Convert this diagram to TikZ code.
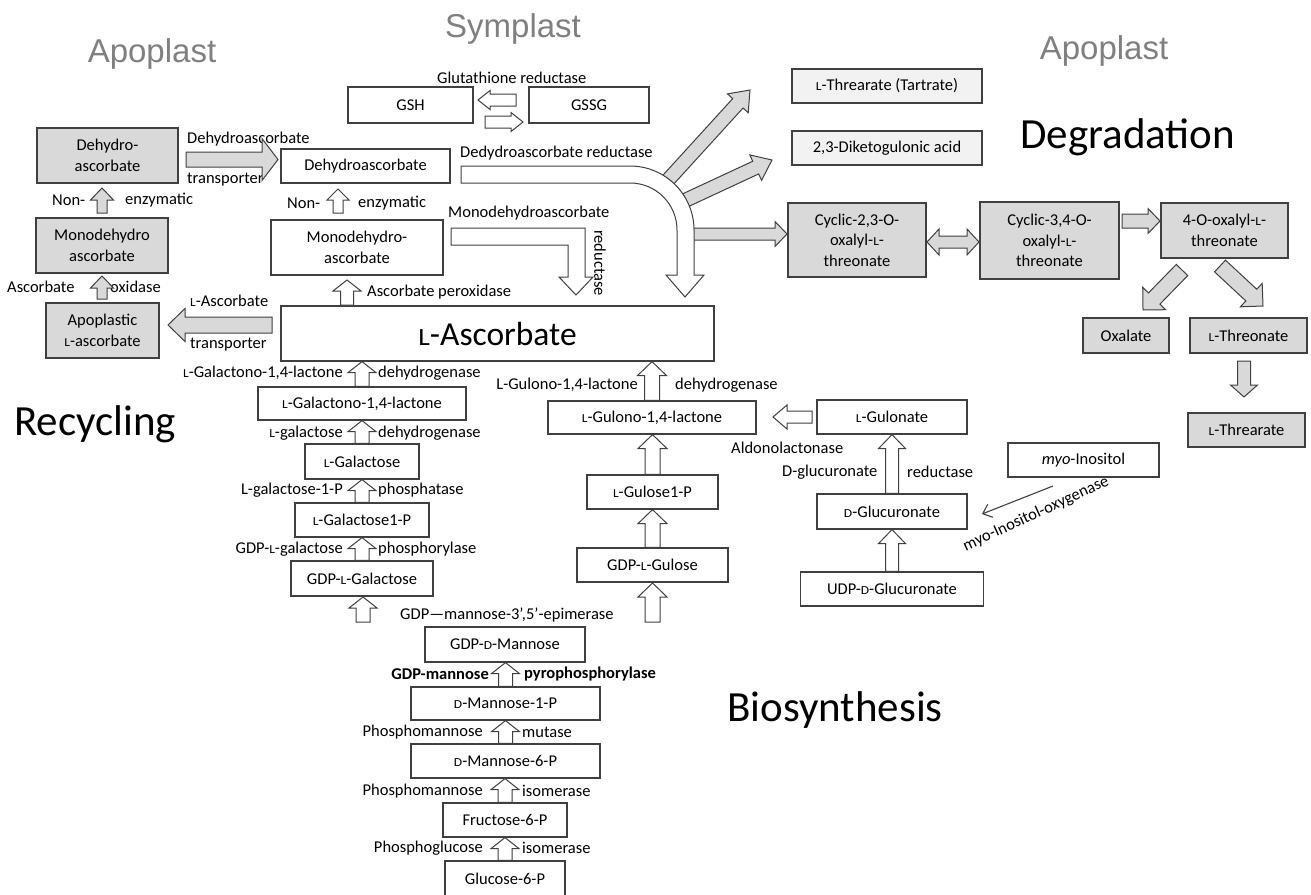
\documentclass[tikz,border=0pt]{standalone}
\usepackage{fontspec}
\setmainfont{Carlito}
\newfontfamily\headfam{Liberation Sans}
\usepackage{graphicx}
\usetikzlibrary{calc,arrows.meta}
\definecolor{boxc}{HTML}{404040}
\definecolor{gfill}{HTML}{D9D9D9}
\definecolor{lfill}{HTML}{F2F2F2}
\definecolor{headc}{HTML}{808080}
\newcommand\scl{\scalebox{0.82}[0.74]{L}}
\newcommand\scd{\scalebox{0.82}[0.74]{D}}
\newcommand\lblfont{\fontsize{16.5}{20.5}\selectfont}
\newcommand\headfont{\headfam\fontsize{33}{40}\selectfont}
\newcommand\titlefont{\fontsize{43}{50}\selectfont}
\newcommand\ascfont{\fontsize{33.5}{40}\selectfont}
% block arrow: [style]{start}{end}{shaft half}{head half}{head length}
\newcommand\barrow[6][]{%
  \draw[barr,#1] let \p1=($(#3)-(#2)$), \n1={veclen(\x1,\y1)}, \n2={atan2(\y1,\x1)} in
  [shift={(#2)},rotate=\n2] (0pt,-#4) -- ({\n1-#6},-#4) -- ({\n1-#6},-#5) -- (\n1,0pt)
  -- ({\n1-#6},#5) -- ({\n1-#6},#4) -- (0pt,#4) -- cycle;}
% up arrow from lower node to upper node
\newcommand\uparr[6][]{%
  \coordinate (ua-s) at (#2.north);
  \coordinate (ua-e) at (#2.north |- #3.south);
  \barrow[#1]{ua-s}{ua-e}{#4}{#5}{#6}}
\tikzset{
  box/.style={draw=boxc, line width=1.2pt, fill=white, inner sep=1pt, align=center, font=\lblfont},
  gbox/.style={box, fill=gfill},
  lbox/.style={box, fill=lfill},
  lbl/.style={inner sep=0pt, font=\lblfont},
  barr/.style={draw=boxc, line width=1pt, fill=white, line join=miter},
  garr/.style={fill=gfill},
  head/.style={font=\headfont, text=headc, inner sep=0pt},
  ttl/.style={font=\titlefont, inner sep=0pt},
}
\begin{document}
\begin{tikzpicture}[x=1pt,y=-1pt]
\useasboundingbox (0,0) rectangle (1311,894);
\fill[white] (0,0) rectangle (1311,894);

% headings
\node[head,anchor=base] (hA1) at (152,62) {Apoplast};
\node[head,anchor=base] (hS) at (513,37) {Symplast};
\node[head,anchor=base] (hA2) at (1104,59) {Apoplast};
\node[ttl,anchor=base west] (deg) at (1020,148) {Degradation};
\node[ttl,anchor=base west] (rec) at (14,435) {Recycling};
\node[ttl,anchor=base west] (bio) at (727,721) {Biosynthesis};

% gray branch arrows (behind the curved arrow)
\barrow[garr]{668,180}{750,90}{7pt}{14pt}{18pt}
\barrow[garr]{686,200}{772,160}{7pt}{14pt}{18pt}
\barrow[garr]{690,234}{787,234}{6pt}{12.5pt}{12pt}

% curved arrow (Dehydroascorbate reductase)
\draw[barr] (461,166) -- (630,166) .. controls (665.3,166) and (694,194.7) .. (694,230)
  -- (694,275) -- (704,275) -- (685,297) -- (666,275) -- (677,275) -- (677,230)
  .. controls (677,204) and (656,183) .. (630,183) -- (461,183) -- cycle;
% bent arrow (Monodehydroascorbate reductase)
\draw[barr] (451,228) -- (585,228) -- (585,277) -- (593,277) -- (576,295) -- (559,277)
  -- (568,277) -- (568,245) -- (451,245) -- cycle;

% boxes
\node[box,minimum width=125pt,minimum height=36pt] (gsh) at (410.5,105) {GSH};
\node[box,minimum width=120pt,minimum height=36pt] (gssg) at (589,105) {GSSG};
\node[gbox,minimum width=141pt,minimum height=55pt] (dhaA) at (107.5,155.5) {Dehydro-\\ascorbate};
\node[box,minimum width=169pt,minimum height=34pt] (dhaS) at (365.5,166) {Dehydroascorbate};
\node[gbox,minimum width=132pt,minimum height=55pt] (mdhaA) at (102,245.5) {Monodehydro\\ascorbate};
\node[box,minimum width=172pt,minimum height=55pt] (mdhaS) at (357,247.5) {Monodehydro-\\ascorbate};
\node[gbox,minimum width=113pt,minimum height=55pt] (apoasc) at (102.5,330.5) {Apoplastic\\\scl-ascorbate};
\node[box,minimum width=433pt,minimum height=55pt,font=\ascfont] (asc) at (497.5,333.5) {\scl-Ascorbate};
\node[box,minimum width=208pt,minimum height=33pt] (galL) at (362,403.5) {\scl-Galactono-1,4-lactone};
\node[box,minimum width=114pt,minimum height=35pt] (gal) at (362,461.5) {\scl-Galactose};
\node[box,minimum width=134pt,minimum height=34pt] (gal1p) at (362,520) {\scl-Galactose1-P};
\node[box,minimum width=142pt,minimum height=35pt] (gdpgal) at (362,578.5) {GDP-\scl-Galactose};
\node[box,minimum width=160pt,minimum height=35pt] (gdpman) at (505,644.5) {GDP-\scd-Mannose};
\node[box,minimum width=189pt,minimum height=33pt] (man1p) at (505.5,703.5) {\scd-Mannose-1-P};
\node[box,minimum width=189pt,minimum height=34pt] (man6p) at (505.5,761) {\scd-Mannose-6-P};
\node[box,minimum width=124pt,minimum height=34pt] (fru6p) at (505,820) {Fructose-6-P};
\node[box,minimum width=120pt,minimum height=36pt] (glc6p) at (505,879) {Glucose-6-P};
\node[box,minimum width=208pt,minimum height=33pt] (gulL) at (652,417.5) {\scl-Gulono-1,4-lactone};
\node[box,minimum width=131pt,minimum height=34pt] (gul1p) at (652.5,492) {\scl-Gulose1-P};
\node[box,minimum width=151pt,minimum height=34pt] (gdpgul) at (652.5,565) {GDP-\scl-Gulose};
\node[box,minimum width=150pt,minimum height=34pt] (gulon) at (892,417) {\scl-Gulonate};
\node[box,minimum width=150pt,minimum height=35pt] (glcA) at (892,511.5) {\scd-Glucuronate};
\node[box,minimum width=183pt,minimum height=34pt] (udpglcA) at (892,589) {UDP-\scd-Glucuronate};
\node[box,minimum width=151pt,minimum height=34pt] (myo) at (1083.5,460) {\textit{myo}-Inositol};
\node[lbox,minimum width=190pt,minimum height=34pt] (tart) at (887,86) {\scl-Threarate (Tartrate)};
\node[lbox,minimum width=190pt,minimum height=34pt] (dkg) at (887,148) {2,3-Diketogulonic acid};
\node[gbox,minimum width=138pt,minimum height=74pt] (cyc23) at (857,240) {Cyclic-2,3-O-\\oxalyl-\scl-\\threonate};
\node[gbox,minimum width=139pt,minimum height=77pt] (cyc34) at (1049.5,240.5) {Cyclic-3,4-O-\\oxalyl-\scl-\\threonate};
\node[gbox,minimum width=127pt,minimum height=55pt] (oxthr) at (1224.5,230.5) {4-O-oxalyl-\scl-\\threonate};
\node[gbox,minimum width=86pt,minimum height=35pt] (oxa) at (1126,335.5) {Oxalate};
\node[gbox,minimum width=117pt,minimum height=35pt] (thro) at (1248.5,335.5) {\scl-Threonate};
\node[gbox,minimum width=117pt,minimum height=34pt] (thra) at (1246.5,430) {\scl-Threarate};

% labels - recycling
\node[lbl,anchor=west] (l1) at (187,139) {Dehydroascorbate};
\node[lbl,anchor=west] (l2) at (187,180) {transporter};
\node[lbl,anchor=west] (l3) at (52,200) {Non-};
\node[lbl,anchor=west] (l4) at (125,200) {enzymatic};
\node[lbl,anchor=west] (l5) at (7,287) {Ascorbate};
\node[lbl,anchor=west] (l6) at (110,287) {oxidase};
\node[lbl,anchor=west] (l7) at (190,301) {\scl-Ascorbate};
\node[lbl,anchor=west] (l8) at (190,345) {transporter};
\node[lbl,anchor=west] (l9) at (287,203) {Non-};
\node[lbl,anchor=west] (l10) at (358,203) {enzymatic};
\node[lbl,anchor=west] (l11) at (367,292) {Ascorbate peroxidase};
\node[lbl,anchor=west] (l12) at (437,78) {Glutathione reductase};
\node[lbl,anchor=west] (l13) at (460,153) {Dedydroascorbate reductase};
\node[lbl,anchor=west] (l14) at (448,213) {Monodehydroascorbate};
\node[lbl,rotate=-90] (l15) at (600,263) {reductase};

% labels - biosynthesis
\node[lbl,anchor=east] (b1) at (343,373) {\scl-Galactono-1,4-lactone};
\node[lbl,anchor=west] (b2) at (378,373) {dehydrogenase};
\node[lbl,anchor=east] (b3) at (343,433) {\scl-galactose};
\node[lbl,anchor=west] (b4) at (378,433) {dehydrogenase};
\node[lbl,anchor=east] (b5) at (343,490) {L-galactose-1-P};
\node[lbl,anchor=west] (b6) at (378,490) {phosphatase};
\node[lbl,anchor=east] (b7) at (343,549) {GDP-\scl-galactose};
\node[lbl,anchor=west] (b8) at (378,549) {phosphorylase};
\node[lbl,anchor=west] (b9) at (400,615) {GDP---mannose-3',5'-epimerase};
\node[lbl,anchor=east,font=\lblfont\bfseries] (b10) at (489,674) {GDP-mannose};
\node[lbl,anchor=west,font=\lblfont\bfseries] (b11) at (524,674) {pyrophosphorylase};
\node[lbl,anchor=east] (b12) at (483,732) {Phosphomannose};
\node[lbl,anchor=west] (b13) at (522,732) {mutase};
\node[lbl,anchor=east] (b14) at (483,791) {Phosphomannose};
\node[lbl,anchor=west] (b15) at (522,791) {isomerase};
\node[lbl,anchor=east] (b16) at (483,848) {Phosphoglucose};
\node[lbl,anchor=west] (b17) at (522,848) {isomerase};
\node[lbl,anchor=east] (b18) at (638,385) {L-Gulono-1,4-lactone};
\node[lbl,anchor=west] (b19) at (675,385) {dehydrogenase};
\node[lbl,anchor=west] (b20) at (731,448) {Aldonolactonase};
\node[lbl,anchor=west] (b21) at (782,472) {D-glucuronate};
\node[lbl,anchor=west] (b22) at (907,472) {reductase};
\node[lbl,rotate=24.7] (b23) at (1036,514) {myo-Inositol-oxygenase};

% arrows - recycling
\barrow[garr]{186,159.5}{278,159.5}{7.5pt}{21pt}{16pt}
\barrow[garr]{102,213}{102,188}{5pt}{11.5pt}{12pt}
\barrow[garr]{102,299}{102,276}{5pt}{11.5pt}{12pt}
\barrow[garr]{272,325}{168,325}{8pt}{16.5pt}{17pt}
\barrow{338,213}{338,189}{5pt}{11pt}{11pt}
\barrow{347,305}{347,280}{6.5pt}{14pt}{11pt}
\barrow{516,100}{478,100}{6pt}{9.5pt}{12pt}
\barrow{485,122}{523,122}{6pt}{9.5pt}{12pt}

% arrows - biosynthesis
\uparr{galL}{asc}{7pt}{14pt}{11pt}
\uparr{gal}{galL}{7pt}{14pt}{11pt}
\uparr{gal1p}{gal}{7pt}{14pt}{11pt}
\uparr{gdpgal}{gal1p}{7pt}{14pt}{11pt}
\barrow{363,622}{363,597}{7pt}{14pt}{11pt}
\uparr{man1p}{gdpman}{7pt}{14pt}{11pt}
\uparr{man6p}{man1p}{7pt}{14pt}{11pt}
\uparr{fru6p}{man6p}{7pt}{14pt}{11pt}
\uparr{glc6p}{fru6p}{7pt}{14pt}{11pt}
\uparr{gulL}{asc}{7.5pt}{14.5pt}{14pt}
\uparr{gul1p}{gulL}{7.5pt}{14.5pt}{14pt}
\uparr{gdpgul}{gul1p}{7.5pt}{14.5pt}{14pt}
\barrow{652.5,622}{652.5,583}{7.5pt}{14.5pt}{14pt}
\barrow{812,417}{773,417}{6pt}{12pt}{14pt}
\uparr{glcA}{gulon}{6.5pt}{13.5pt}{14pt}
\uparr{udpglcA}{glcA}{6.5pt}{13.5pt}{14pt}
\coordinate (myoS) at (1053,486);
\coordinate (myoE) at (982,514);
\draw[draw=boxc,line width=1.1pt,-{Straight Barb[length=8pt,width=14pt]}] (myoS) -- (myoE);

% arrows - degradation
\draw[barr,garr] (927,242) -- (939,229) -- (939,236) -- (967,236) -- (967,229) -- (979,242)
  -- (967,255) -- (967,248) -- (939,248) -- (939,255) -- cycle;
\barrow[garr]{1122,221}{1160,221}{7pt}{12.5pt}{12pt}
\barrow[garr]{1182,270}{1143,310}{8pt}{16pt}{16pt}
\barrow[garr]{1220,266}{1263,306}{8pt}{16pt}{16pt}
\barrow[garr]{1244,361}{1244,397}{6.5pt}{13.5pt}{12pt}
\end{tikzpicture}
\end{document}
